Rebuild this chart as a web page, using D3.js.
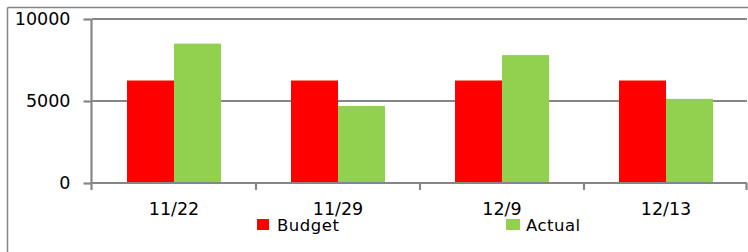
<!DOCTYPE html>
<html><head><meta charset="utf-8">
<script src="https://cdn.jsdelivr.net/npm/d3@7"></script>
<style>body{margin:0;background:#fff}svg{display:block}text{font-family:"DejaVu Sans",sans-serif;fill:#000}</style>
</head><body>
<svg id="c" width="748" height="252"></svg>
<script>
const categories = ["11/22","11/29","12/9","12/13"];
const seriesNames = ["Budget","Actual"];
const budget = [6250, 6250, 6250, 6250];
const actual = [8500, 4700, 7800, 5130];
const yTicks = [0, 5000, 10000];
const colors = ["#FF0000", "#92D050"];

const svg = d3.select("#c");
const grid = "#868686";
// outer border (top and left)
svg.append("line").attr("x1",7.5).attr("x2",748).attr("y1",7.5).attr("y2",7.5).attr("stroke",grid).attr("stroke-width",1.5);
svg.append("line").attr("x1",7.5).attr("x2",7.5).attr("y1",7.5).attr("y2",252).attr("stroke",grid).attr("stroke-width",1.5);

const y = d3.scaleLinear().domain([0,10000]).range([183,19]);
const x0 = d3.scaleBand().domain(categories).range([92,748]).padding(0);
const x1 = d3.scaleBand().domain(seriesNames).range([0,x0.bandwidth()]).paddingInner(0).paddingOuter(0.745);

// gridlines
svg.append("g").selectAll("line").data(yTicks.filter(d=>d>0)).join("line")
  .attr("x1",92).attr("x2",747).attr("y1",d=>y(d)).attr("y2",d=>y(d))
  .attr("stroke",grid).attr("stroke-width",2.2);

// bars
const data = categories.map((c,i)=>({c, vals:[budget[i],actual[i]]}));
svg.append("g").selectAll("g").data(data).join("g")
  .attr("transform",d=>`translate(${x0(d.c)},0)`)
  .selectAll("rect").data(d=>d.vals.map((v,j)=>({s:seriesNames[j],v,j}))).join("rect")
  .attr("x",d=>x1(d.s)).attr("width",x1.bandwidth())
  .attr("y",d=>y(d.v)).attr("height",d=>y(0)-y(d.v))
  .attr("fill",d=>colors[d.j]);

// y axis
const yAxis = d3.axisLeft(y).tickValues(yTicks).tickSize(8).tickPadding(13).tickFormat(d3.format("d"));
const gy = svg.append("g").attr("transform","translate(91.5,0)").call(yAxis);
gy.select(".domain").attr("stroke",grid).attr("stroke-width",2.2).attr("d","M0,19V190");
gy.selectAll(".tick line").attr("stroke",grid).attr("stroke-width",2.2);
gy.selectAll(".tick text").attr("font-size",17.5).attr("font-family","DejaVu Sans").attr("fill","#000");

// x axis
const xAxis = d3.axisBottom(x0).tickSize(0).tickPadding(19.5);
const gx = svg.append("g").attr("transform",`translate(0,${y(0)})`).call(xAxis);
gx.select(".domain").attr("stroke",grid).attr("stroke-width",2.2).attr("d","M91.5,0H747");
gx.selectAll(".tick text").attr("font-size",17.5).attr("font-family","DejaVu Sans").attr("fill","#000");
// category boundary ticks
const bounds = categories.map(c=>x0(c)+x0.bandwidth());
svg.append("g").selectAll("line").data(bounds).join("line")
  .attr("x1",d=>Math.min(d,746.5)).attr("x2",d=>Math.min(d,746.5))
  .attr("y1",y(0)).attr("y2",y(0)+7).attr("stroke",grid).attr("stroke-width",2.2);

// legend
const legX = [257, 506];
const leg = svg.append("g").selectAll("g").data(seriesNames).join("g")
  .attr("transform",(d,i)=>`translate(${legX[i]},219)`);
leg.append("rect").attr("width",(d,i)=>i===0?12:14).attr("height",11).attr("fill",(d,i)=>colors[i]);
leg.append("text").attr("x",20).attr("y",12).attr("font-size",16.5).attr("letter-spacing",0.5).text(d=>d);
</script>
</body></html>
